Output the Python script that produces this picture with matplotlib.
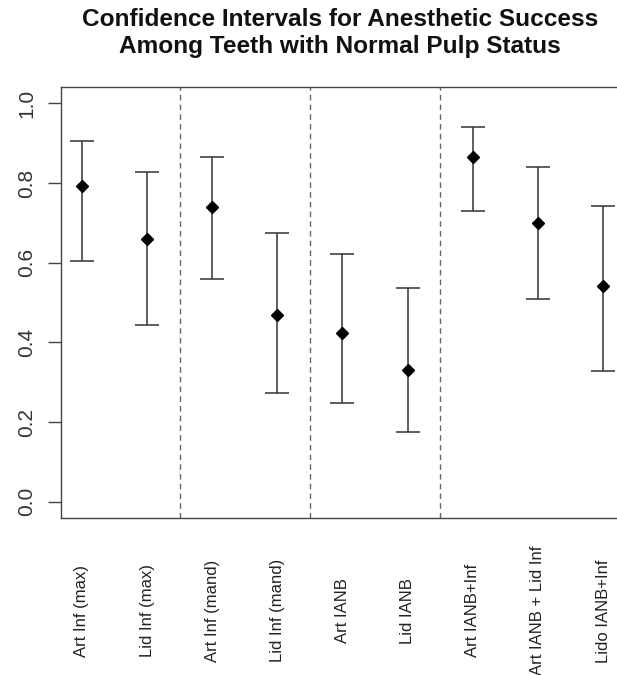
import matplotlib
matplotlib.use("Agg")
import matplotlib.pyplot as plt

plt.rcParams['font.family'] = ['Liberation Sans', 'DejaVu Sans']

# Confidence intervals for anesthetic success (normal pulp)
groups = ["Art Inf (max)", "Lid Inf (max)", "Art Inf (mand)", "Lid Inf (mand)",
          "Art IANB", "Lid IANB", "Art IANB+Inf", "Art IANB + Lid Inf", "Lido IANB+Inf"]
estimate = [0.793, 0.659, 0.740, 0.469, 0.423, 0.331, 0.866, 0.700, 0.541]
lower = [0.604, 0.443, 0.558, 0.274, 0.248, 0.176, 0.730, 0.508, 0.327]
upper = [0.906, 0.827, 0.865, 0.675, 0.622, 0.536, 0.940, 0.840, 0.742]
separators = [2.5, 4.5, 6.5]

x = list(range(1, len(groups) + 1))
err_lo = [e - l for e, l in zip(estimate, lower)]
err_hi = [u - e for e, u in zip(estimate, upper)]

fig = plt.figure(figsize=(6.17, 6.75), dpi=100)
ax = fig.add_axes([61 / 617, 1 - 517.7 / 675, 563 / 617, 430.4 / 675])

ax.errorbar(x, estimate, yerr=[err_lo, err_hi], fmt="none", ecolor="#333333",
            elinewidth=1.1, capsize=8.3, capthick=1.1)
ax.plot(x, estimate, linestyle="none", marker="D", markersize=6.5,
        color="black")

for s in separators:
    ax.axvline(s, color="#666666", linestyle=(0, (4, 3)), linewidth=1.0)

ax.set_xlim(0.68, 9.32)
ax.set_ylim(-0.04, 1.04)

ax.set_yticks([0.0, 0.2, 0.4, 0.6, 0.8, 1.0])
ax.set_yticklabels(["0.0", "0.2", "0.4", "0.6", "0.8", "1.0"], rotation=90,
                   va="center", ha="center", fontsize=15, color="#333333")
ax.tick_params(axis="y", length=9.4, width=1.0, color="#444444", pad=15)

ax.set_xticks(x)
ax.set_xticklabels(groups, rotation=90, va="center", ha="center",
                   fontsize=12, color="#222222")
ax.tick_params(axis="x", length=0, pad=67)

for sp in ax.spines.values():
    sp.set_color("#444444")
    sp.set_linewidth(1.0)

fig.text(340 / 617, 1 - 33 / 675,
         "Confidence Intervals for Anesthetic Success\nAmong Teeth with Normal Pulp Status",
         ha="center", va="center", fontsize=17.6, fontweight="bold",
         linespacing=1.22, color="#111111")

fig.savefig("out.png", dpi=100)
